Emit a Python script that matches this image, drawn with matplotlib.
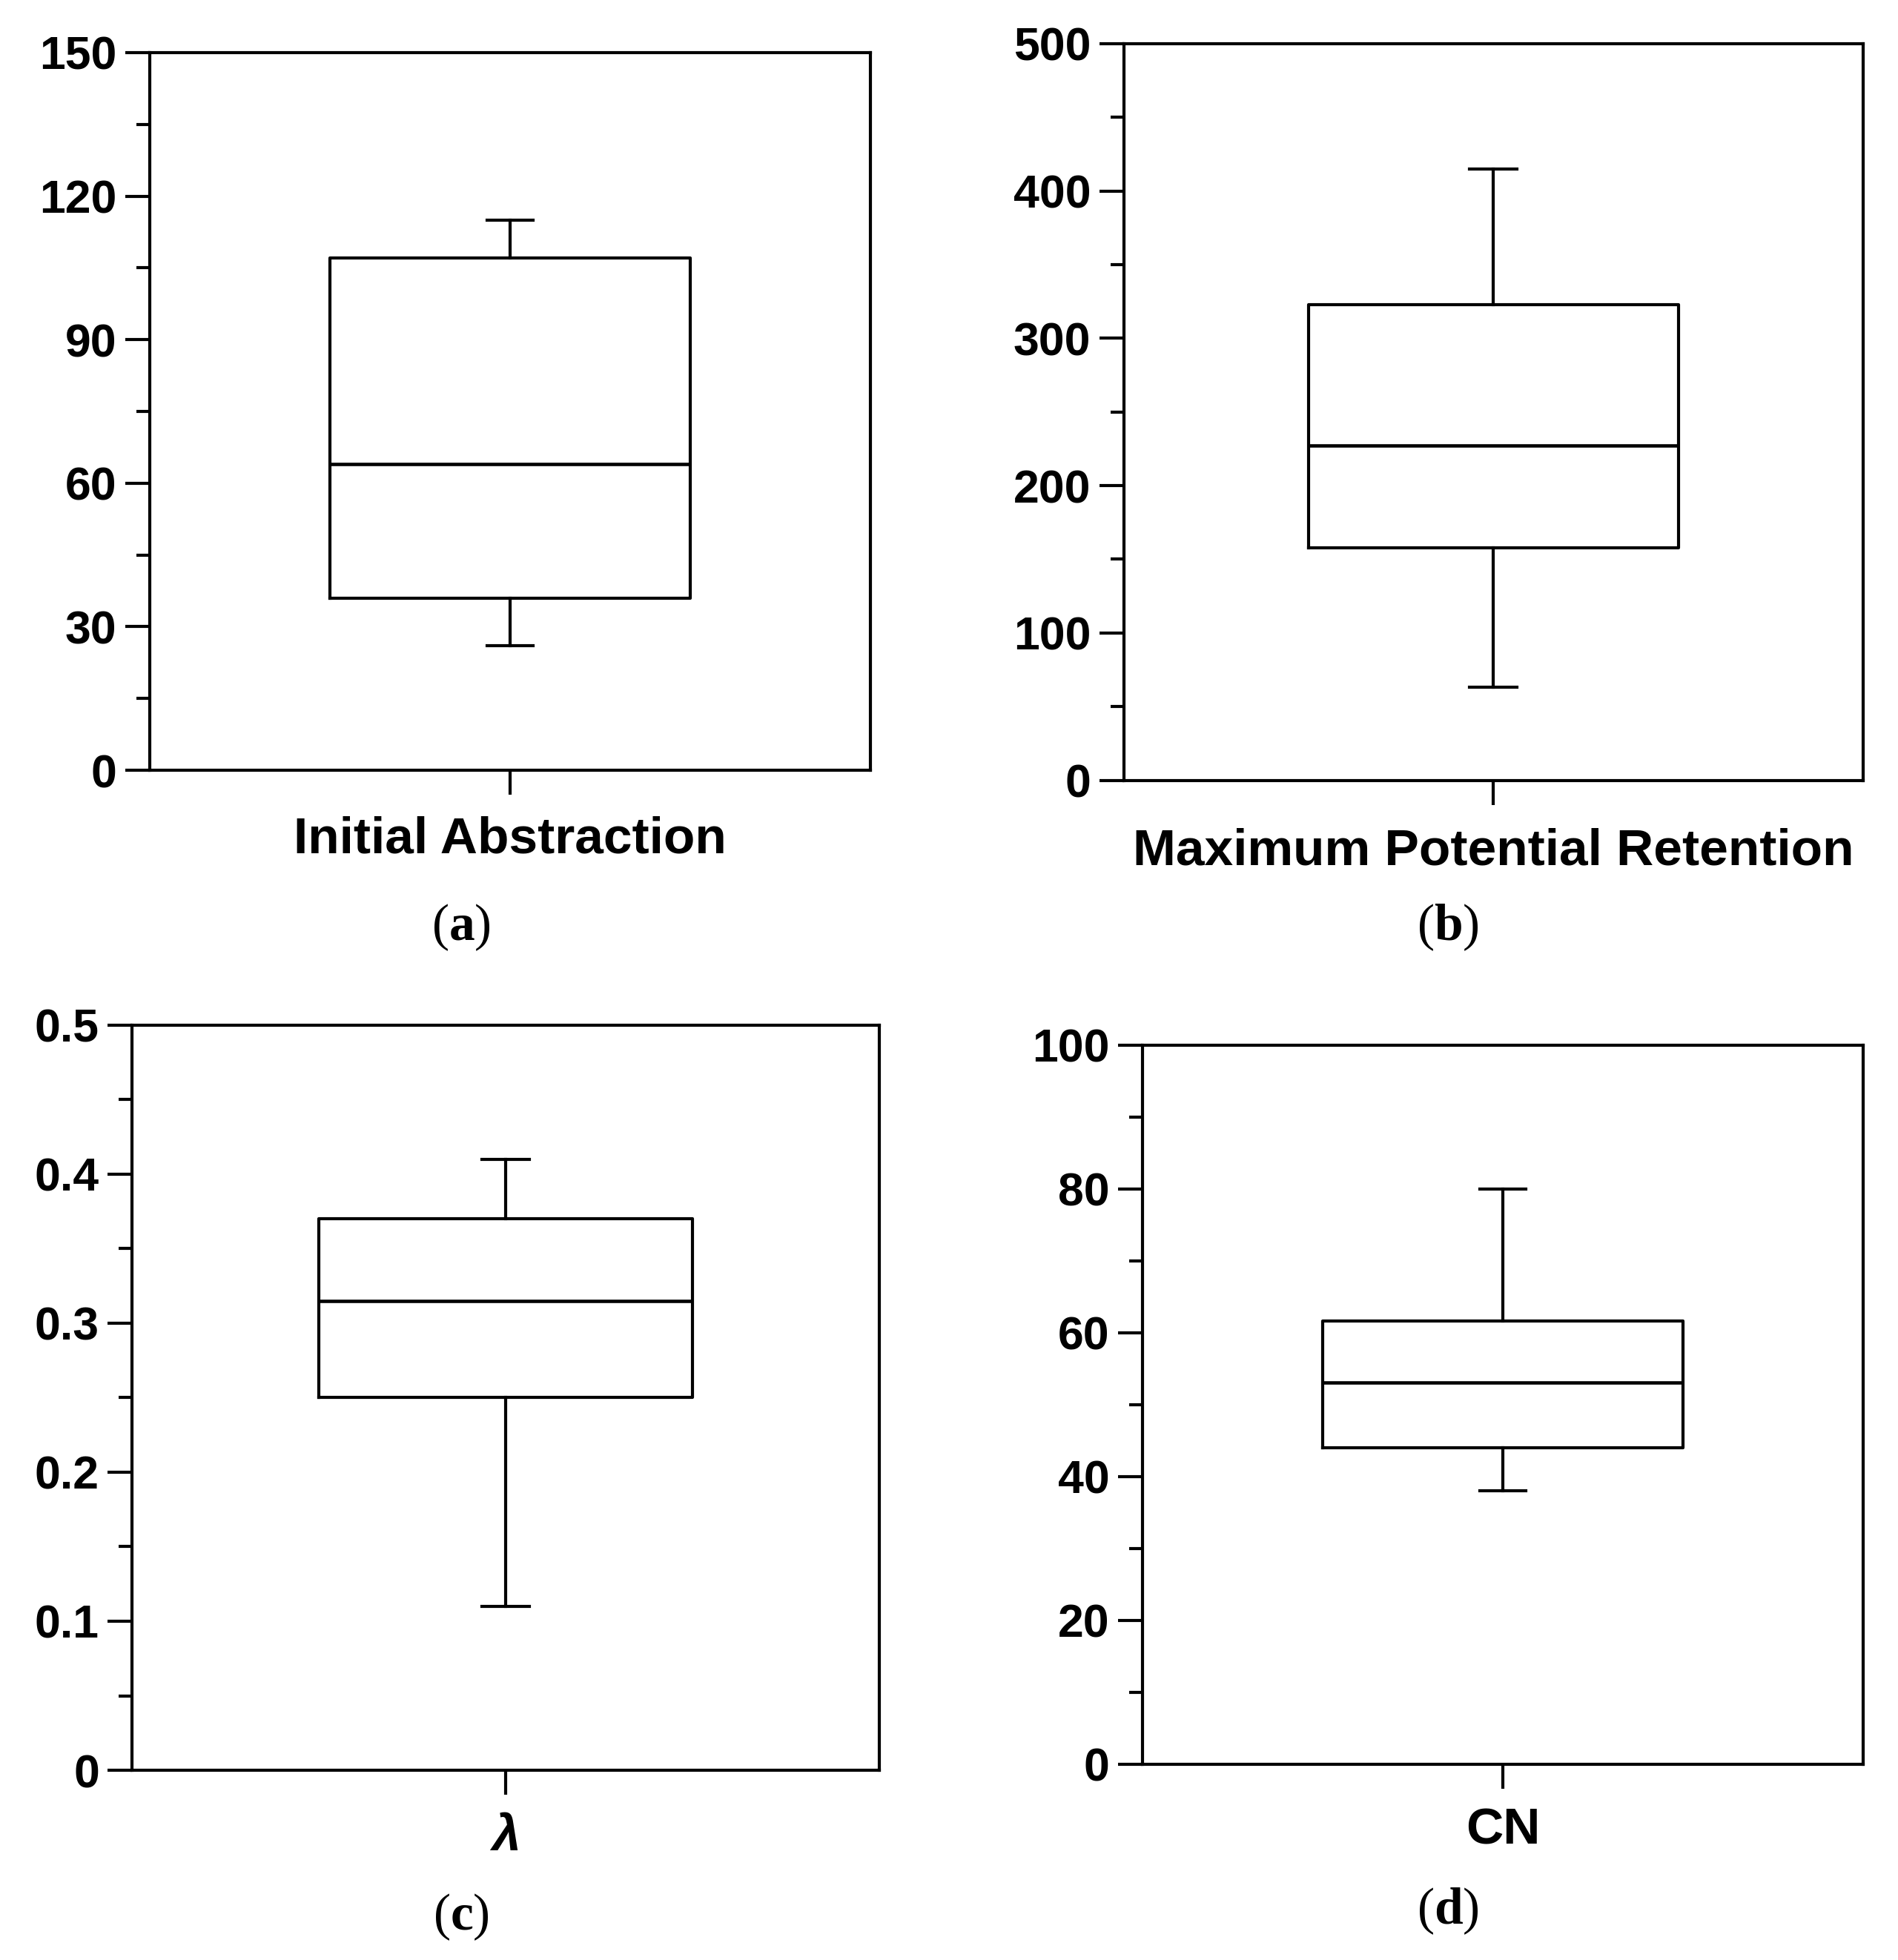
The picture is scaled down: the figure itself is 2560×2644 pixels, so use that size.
import matplotlib
matplotlib.use("Agg")
import matplotlib.pyplot as plt
from matplotlib.ticker import MultipleLocator

plt.rcParams['font.family'] = ['Liberation Sans', 'DejaVu Sans']
plt.rcParams['mathtext.fontset'] = 'custom'
plt.rcParams['mathtext.rm'] = 'Liberation Serif'
plt.rcParams['mathtext.bf'] = 'Liberation Serif:bold'

# box statistics: whislo, q1, med, q3, whishi
names = ['Initial Abstraction', 'Maximum Potential Retention', 'λ', 'CN']
panel_tags = ['a', 'b', 'c', 'd']
stats_a = [26, 36, 64, 107, 115]
stats_b = [63, 158, 227, 323, 415]
stats_c = [0.11, 0.25, 0.315, 0.37, 0.41]
stats_d = [38, 44, 53, 61.6, 80]
all_stats = [stats_a, stats_b, stats_c, stats_d]

ylims = [(0, 150), (0, 500), (0, 0.5), (0, 100)]
major_steps = [30, 100, 0.1, 20]

# axes rectangles [left, bottom, width, height] in figure fractions
rects = [
    [0.0789, 0.6070, 0.3797, 0.3662],
    [0.5921, 0.6019, 0.3895, 0.3758],
    [0.0697, 0.0968, 0.3934, 0.3803],
    [0.6020, 0.1000, 0.3796, 0.3669],
]
tag_pos = [(0.243, 0.527), (0.763, 0.527), (0.243, 0.022), (0.763, 0.025)]
label_pad = [20, 22, 18, 18]

fig = plt.figure(figsize=(25.6, 26.44), dpi=100)

for i in range(4):
    ax = fig.add_axes(rects[i])
    lo, q1, med, q3, hi = all_stats[i]
    st = [dict(whislo=lo, q1=q1, med=med, q3=q3, whishi=hi, fliers=[])]
    ax.bxp(st, positions=[1], widths=0.5, showfliers=False, capwidths=0.064,
           boxprops=dict(color='black', linewidth=3),
           whiskerprops=dict(color='black', linewidth=3),
           capprops=dict(color='black', linewidth=3),
           medianprops=dict(color='black', linewidth=3.3))
    ax.set_xlim(0.5, 1.5)
    ax.set_ylim(*ylims[i])
    ax.yaxis.set_major_locator(MultipleLocator(major_steps[i]))
    ax.yaxis.set_minor_locator(MultipleLocator(major_steps[i] / 2))
    if i == 2:
        ax.yaxis.set_major_formatter(plt.FuncFormatter(lambda v, p: '0' if v == 0 else f'{v:.1f}'))
    ax.set_xticks([1])
    ax.set_xticklabels([names[i]], fontsize=50, fontweight='bold',
                       fontstyle='italic' if i == 2 else 'normal')
    ax.tick_params(axis='x', direction='out', length=24, width=3, pad=label_pad[i])
    ax.tick_params(axis='y', which='major', direction='out', length=24, width=3, pad=8,
                   labelsize=45)
    ax.tick_params(axis='y', which='minor', direction='out', length=13, width=3)
    for lab in ax.get_yticklabels():
        lab.set_fontweight('bold')
    for sp in ax.spines.values():
        sp.set_linewidth(3)
    fig.text(tag_pos[i][0], tag_pos[i][1], r'($\mathbf{%s}$)' % panel_tags[i],
             family='Liberation Serif', fontsize=50, ha='center', va='center')

fig.savefig('out.png', dpi=100, facecolor='white')
